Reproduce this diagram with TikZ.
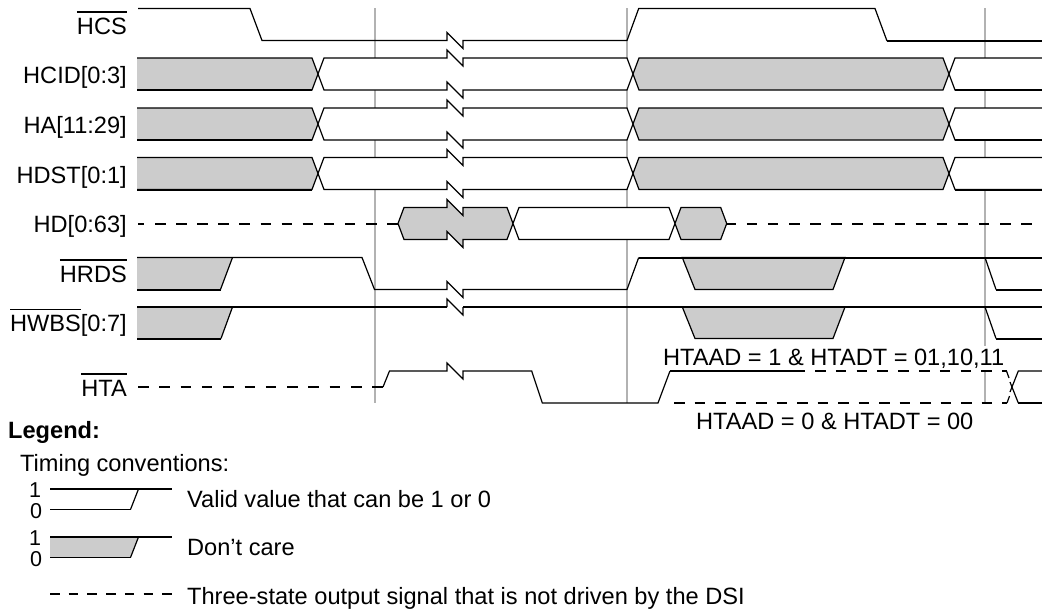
\documentclass[tikz,border=0pt]{standalone}
\usepackage{fontspec}
\setmainfont{Liberation Sans}
\newcommand{\ovl}[1]{\setbox0\hbox{#1}\rlap{\raisebox{21.5pt}{\rule{\wd0}{1.5pt}}}\box0}
% \buswave{ytop}{ybottom}: white+grey bus rows
\newcommand{\buswave}[2]{%
  \pgfmathsetmacro{\yb}{#1-8}\pgfmathsetmacro{\yc}{#1+8}\pgfmathsetmacro{\yd}{#2-8}\pgfmathsetmacro{\ye}{#2+8}%
  \pgfmathsetmacro{\ym}{(#1+#2)/2}%
  \fill[dcfill] (137,#1) -- (312,#1) -- (318,\ym) -- (312,#2) -- (137,#2) -- cycle;
  \fill[white] (318,\ym) -- (324,#1) -- (447,#1) -- (447,\yb) -- (463,\yc) -- (463,#1) -- (627,#1) -- (633,\ym) -- (627,#2) -- (463,#2) -- (463,\ye) -- (447,\yd) -- (447,#2) -- (324,#2) -- cycle;
  \fill[dcfill] (633,\ym) -- (639,#1) -- (943,#1) -- (949,\ym) -- (943,#2) -- (639,#2) -- cycle;
  \fill[white] (949,\ym) -- (955,#1) -- (1042,#1) -- (1042,#2) -- (955,#2) -- cycle;
  \draw[sig] (137,#1) -- (312,#1) -- (324,#2) -- (447,#2) -- (447,\yd) -- (463,\ye) -- (463,#2) -- (627,#2) -- (639,#1) -- (943,#1) -- (955,#2) -- (1042,#2);
  \draw[sig] (137,#2) -- (312,#2) -- (324,#1) -- (447,#1) -- (447,\yb) -- (463,\yc) -- (463,#1) -- (627,#1) -- (639,#2) -- (943,#2) -- (955,#1) -- (1042,#1);
  \draw[sigb] (137,#2) -- (312,#2);
  \draw[sigb] (955,#2) -- (1042,#2);
}
\tikzset{
  dcfill/.style={fill=black!20},
  sig/.style={draw=black,line width=1.2pt,line join=miter},
  sigb/.style={draw=black,line width=2pt},
  tri/.style={draw=black,line width=2pt},
  guide/.style={draw=black!30,line width=2pt},
  lab/.style={anchor=base east,inner sep=0pt,font=\fontsize{23.6}{26}\selectfont},
  txt/.style={anchor=base west,inner sep=0pt,font=\fontsize{23.6}{26}\selectfont},
  digit/.style={anchor=base,inner sep=0pt,font=\fontsize{21.5}{23}\selectfont},
}
\begin{document}
\begin{tikzpicture}[x=1pt,y=-1pt]
\useasboundingbox (0,0) rectangle (1042,611);
% guides
\draw[guide] (375,8) -- (375,403);
\draw[guide] (627,8) -- (627,403);
\draw[guide] (985,8) -- (985,403);
% labels
\node[lab] (lhcs) at (127,34) {\ovl{HCS}};
\node[lab] (lhcid) at (127,83) {HCID[0:3]};
\node[lab] (lha) at (127,133) {HA[11:29]};
\node[lab] (lhdst) at (127,183) {HDST[0:1]};
\node[lab] (lhd) at (127,232.5) {HD[0:63]};
\node[lab] (lhrds) at (127,282) {\ovl{HRDS}};
\node[lab] (lhwbs) at (127,331.5) {\ovl{HWBS}[0:7]};
\node[lab] (lhta) at (127,396) {\ovl{HTA}};
% HCS
\draw[sig] (138,8.5) -- (250,8.5) -- (262,40.5) -- (447,40.5) -- (447,32.5) -- (463,48.5) -- (463,40.5) -- (627,40.5) -- (638.7,8.5) -- (875,8.5) -- (887,41);
\draw[sigb] (887,41) -- (1042,41);
% buses
\buswave{58}{90}
\buswave{108}{140}
\buswave{157.5}{189.5}
% HD
\draw[tri,dash pattern=on 10.5pt off 10.6pt,dash phase=4.1pt] (138,223.5) -- (398,223.5);
\draw[sig,dcfill] (398,223.5) -- (404,207.5) -- (447,207.5) -- (447,199.5) -- (463,215.5) -- (463,207.5) -- (507,207.5) -- (513,223.5) -- (507,239.5) -- (463,239.5) -- (463,247.5) -- (447,231.5) -- (447,239.5) -- (404,239.5) -- cycle;
\draw[sig,fill=white] (513,223.5) -- (519,207.5) -- (669,207.5) -- (675,223.5) -- (669,239.5) -- (519,239.5) -- cycle;
\draw[sig,dcfill] (675,223.5) -- (681,207.5) -- (720.7,207.5) -- (726.7,223.5) -- (720.7,239.5) -- (681,239.5) -- cycle;
\draw[tri,dash pattern=on 10.5pt off 10.6pt,dash phase=1pt] (726.7,223.5) -- (1042,223.5);
% HRDS
\fill[dcfill] (137,257.5) -- (232.5,257.5) -- (220.5,289.5) -- (137,289.5) -- cycle;
\draw[sigb] (137,289.5) -- (220.5,289.5);
\draw[sig] (220.5,289.5) -- (232.5,257.5);
\draw[sig] (137,257.5) -- (362,257.5) -- (374.5,289.5) -- (447,289.5) -- (447,281.5) -- (463,297.5) -- (463,289.5) -- (627,289.5) -- (638.7,257.5);
\draw[sigb] (638.7,257.5) -- (1042,257.5);
\draw[sig,dcfill] (682.3,257.5) -- (845,257.5) -- (833,289.5) -- (695,289.5) -- cycle;
\draw[sigb] (682.3,257.5) -- (845,257.5);
\draw[sig] (985,257.5) -- (996,289.5);
\draw[sigb] (996,289.5) -- (1042,289.5);
% HWBS
\fill[dcfill] (137,307) -- (232.5,307) -- (221,338.5) -- (137,338.5) -- cycle;
\draw[sigb] (137,338.5) -- (221,338.5);
\draw[sig] (221,338.5) -- (232.5,307);
\draw[sigb] (137,307) -- (447,307);
\draw[sig] (447,307) -- (447,299) -- (463,315) -- (463,307);
\draw[sigb] (463,307) -- (1042,307);
\draw[sig,dcfill] (682.3,307) -- (845,307) -- (833,338.5) -- (695,338.5) -- cycle;
\draw[sigb] (682.3,307) -- (845,307);
\draw[sig] (985,307) -- (996,338.5);
\draw[sigb] (996,338.5) -- (1042,338.5);
% condition text
\node[txt,fill=white,inner ysep=3pt] (c1) at (663,365.7) {HTAAD = 1 \& HTADT = 01,10,11};
\node[txt] (c2) at (696,429) {HTAAD = 0 \& HTADT = 00};
% HTA
\draw[tri,dash pattern=on 10.5pt off 10.8pt] (138,387) -- (383,387);
\draw[sig] (383,387) -- (389.5,371) -- (447,371) -- (447,363) -- (463,379) -- (463,371) -- (531.7,371) -- (542.3,403) -- (658,403) -- (670,371);
\draw[sigb] (670,371) -- (805,371);
\draw[tri,dash pattern=on 10.5pt off 10.3pt] (815,371) -- (1007,371);
\draw[tri,dash pattern=on 10.5pt off 10pt] (674,403) -- (1007,403);
\draw[sig] (1006.5,371) -- (1009,378);
\draw[sig] (1007,403) -- (1009.5,396);
\draw[sig] (1010,382) -- (1018.3,403);
\draw[sig] (1010,392) -- (1018.3,371) -- (1042,371);
\draw[sigb] (1018.3,403) -- (1042,403);
% legend
\node[txt,font=\fontsize{23.6}{26}\selectfont\bfseries] (leg) at (8,438) {Legend:};
\node[txt] (tc) at (20,471.7) {Timing conventions:};
\node[digit] (o1) at (35,497.7) {1};
\node[digit] (z1) at (36,518) {0};
\node[digit] (o2) at (35,545.7) {1};
\node[digit] (z2) at (36,566) {0};
\draw[sig,line width=1.5pt] (50,489) -- (172,489);
\draw[sig,line width=1.5pt] (50,509.5) -- (130.5,509.5);
\draw[sig] (130.5,509.5) -- (138.5,489);
\fill[dcfill] (50,537) -- (138.5,537) -- (130.5,557.5) -- (50,557.5) -- cycle;
\draw[sig,line width=1.5pt] (50,537) -- (172,537);
\draw[sig,line width=1.5pt] (50,557.5) -- (130.5,557.5);
\draw[sig] (130.5,557.5) -- (138.5,537);
\draw[tri,line width=1.5pt,dash pattern=on 9.5pt off 9.2pt] (50,594) -- (172,594);
\node[txt] (t1) at (187,507.5) {Valid value that can be 1 or 0};
\node[txt] (t2) at (187,555.5) {Don’t care};
\node[txt] (t3) at (187,604) {Three-state output signal that is not driven by the DSI};
\end{tikzpicture}
\end{document}
